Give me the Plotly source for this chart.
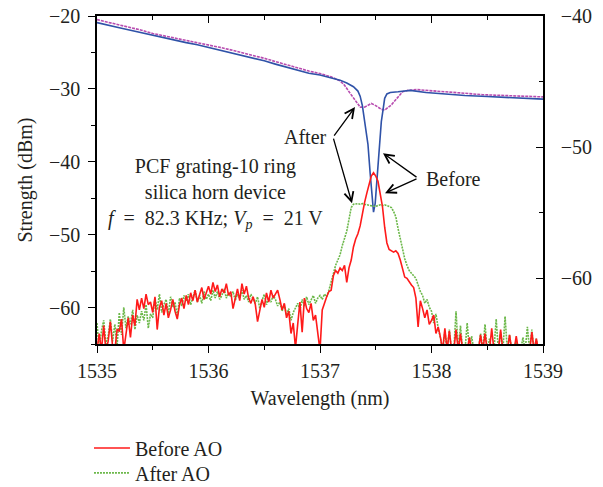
import numpy as np
import plotly.graph_objects as go

# ---------------- DATA ----------------
# Transmission spectra (left axis, dBm)
before_trans_wl = [1535.00, 1535.10, 1535.20, 1535.30, 1535.40, 1535.50, 1535.60, 1535.70, 1535.80, 1535.90,
                   1536.00, 1536.10, 1536.20, 1536.30, 1536.40, 1536.50, 1536.60, 1536.70, 1536.80, 1536.90,
                   1537.00, 1537.10, 1537.18, 1537.24, 1537.30, 1537.34, 1537.36, 1537.38, 1537.40, 1537.42,
                   1537.43, 1537.45, 1537.465, 1537.48, 1537.495, 1537.51, 1537.53, 1537.55, 1537.565, 1537.58,
                   1537.60, 1537.63, 1537.70, 1537.81, 1537.95, 1538.10, 1538.30, 1538.50, 1538.70, 1538.90, 1539.00]
before_trans_dbm = [-20.9, -21.2, -21.6, -21.95, -22.3, -22.7, -23.0, -23.35, -23.65, -23.95,
                    -24.3, -24.65, -25.0, -25.35, -25.75, -26.15, -26.6, -27.05, -27.5, -27.85,
                    -28.1, -28.45, -28.8, -29.2, -29.7, -30.3, -31.0, -32.3, -34.5, -36.6,
                    -37.6, -41.6, -44.9, -46.9, -45.7, -42.5, -37.6, -34.5, -32.9, -31.3,
                    -30.7, -30.5, -30.4, -30.2, -30.5, -30.7, -30.9, -31.05, -31.2, -31.35, -31.4]

after_trans_wl = [1535.00, 1535.10, 1535.20, 1535.30, 1535.40, 1535.50, 1535.60, 1535.70, 1535.80, 1535.90,
                  1536.00, 1536.10, 1536.20, 1536.30, 1536.40, 1536.50, 1536.60, 1536.70, 1536.80, 1536.90,
                  1537.00, 1537.10, 1537.18, 1537.22, 1537.27, 1537.31, 1537.36, 1537.40, 1537.43, 1537.46,
                  1537.49, 1537.52, 1537.55, 1537.58, 1537.61, 1537.64, 1537.69, 1537.74, 1537.79, 1537.87,
                  1537.95, 1538.05, 1538.17, 1538.30, 1538.46, 1538.60, 1538.80, 1539.00]
after_trans_dbm = [-20.5, -20.85, -21.2, -21.6, -21.95, -22.4, -22.7, -23.05, -23.35, -23.65,
                   -24.0, -24.3, -24.65, -25.0, -25.4, -25.8, -26.25, -26.7, -27.15, -27.55,
                   -27.9, -28.35, -28.9, -29.5, -30.6, -31.5, -32.5, -32.5, -32.2, -32.0,
                   -32.2, -32.5, -32.8, -32.9, -32.6, -32.2, -31.3, -30.4, -30.2, -30.1,
                   -30.2, -30.3, -30.4, -30.6, -30.8, -30.9, -31.0, -31.1]

# AO output spectra (right axis), sampled every 0.02 nm from 1535 to 1539
spec_start = 1535.0
spec_step = 0.02
before_ao = [
    -65.5, -64.2, -65.5, -63.6, -65.5, -64.8, -63.3, -65.2, -65.5, -63.9,
    -64.0, -63.1, -65.5, -64.2, -63.0, -64.5, -62.8, -63.6, -61.6, -62.4,
    -61.5, -62.3, -61.2, -62.0, -61.8, -62.6, -61.4, -63.9, -62.2, -61.7,
    -62.8, -61.9, -63.0, -62.4, -61.6, -62.5, -63.1, -62.0, -61.5, -62.3,
    -61.3, -62.0, -61.1, -61.7, -60.9, -61.8, -61.2, -60.7, -61.6, -61.0,
    -60.6, -61.2, -60.3, -61.0, -60.5, -61.4, -60.8, -61.1, -60.4, -61.3,
    -61.0, -62.3, -61.5, -60.8, -61.7, -60.4, -61.2, -60.6, -61.5, -61.9,
    -61.4, -62.0, -63.3, -62.5, -61.6, -62.2, -61.1, -61.8, -60.9, -61.5,
    -61.2, -60.9, -61.6, -62.4, -61.9, -63.0, -62.5, -64.2, -63.4, -65.3,
    -63.5, -61.8, -64.1, -61.5, -62.3, -62.6, -61.9, -63.2, -62.8, -64.0,
    -65.5, -62.4, -61.8, -61.4, -61.0, -60.9, -59.8, -59.4, -59.6, -59.2,
    -59.4, -59.0, -60.3, -59.2, -58.6, -57.6, -57.0, -56.6, -56.0, -55.0,
    -54.2, -53.5, -52.8, -52.2, -51.95, -52.2, -52.6, -53.5, -54.5, -56.1,
    -57.3, -57.8, -57.9, -58.0, -57.9, -58.1, -58.6, -59.2, -59.9, -60.0,
    -60.3, -60.5, -60.7, -61.5, -63.7, -61.7, -62.3, -63.0, -62.4, -63.5,
    -63.2, -62.8, -64.2, -63.7, -64.5, -65.5, -63.8, -65.5, -64.0, -65.5,
    -65.5, -63.9, -65.5, -64.2, -65.5, -65.5, -65.5, -64.5, -65.5, -65.5,
    -65.5, -65.5, -64.3, -65.5, -64.2, -65.5, -65.5, -63.8, -65.5, -65.5,
    -65.5, -63.9, -65.5, -65.5, -65.5, -64.3, -65.5, -65.5, -64.4, -65.5,
    -65.5, -65.5, -65.5, -65.5, -65.5, -64.1, -65.5, -64.6, -65.5, -65.5,
    -65.5]
after_ao = [
    -63.4, -65.5, -64.0, -63.2, -65.0, -64.4, -63.1, -64.8, -63.5, -65.2,
    -62.6, -64.3, -62.2, -63.8, -62.9, -63.5, -62.4, -63.9, -62.8, -63.4,
    -62.5, -63.2, -62.0, -63.8, -62.7, -63.0, -61.5, -62.4, -61.2, -62.6,
    -62.0, -61.6, -62.7, -61.4, -62.2, -61.8, -62.9, -61.5, -62.1, -61.3,
    -61.7, -61.2, -62.0, -61.4, -60.9, -61.8, -61.3, -61.9, -61.0, -61.6,
    -61.2, -61.7, -60.9, -61.5, -61.0, -61.6, -61.3, -60.8, -61.5, -61.1,
    -61.4, -61.0, -61.7, -61.2, -61.5, -60.9, -61.6, -61.3, -61.8, -61.2,
    -61.6, -61.9, -61.4, -62.3, -61.7, -61.2, -62.0, -61.5, -61.8, -61.3,
    -61.6, -62.1, -61.8, -62.5, -62.0, -62.8, -62.3, -63.2, -62.6, -62.2,
    -61.9, -62.4, -61.6, -62.1, -61.4, -62.0, -61.7, -61.3, -61.9, -61.5,
    -61.3, -61.6, -61.2, -61.4, -60.9, -60.2, -59.5, -59.0, -58.6, -58.2,
    -57.5, -56.9, -56.4, -55.5, -54.6, -54.35, -54.3, -54.3, -54.35, -54.3,
    -54.35, -54.4, -54.4, -54.45, -54.5, -54.5, -54.45, -54.4, -54.45, -54.4,
    -54.45, -54.5, -54.6, -54.9, -55.3, -56.2, -57.0, -57.8, -58.5, -59.0,
    -59.4, -59.6, -59.8, -60.0, -60.5, -61.0, -61.3, -61.9, -61.6, -62.2,
    -62.5, -63.4, -62.7, -63.8, -64.5, -65.5, -64.0, -65.5, -63.9, -65.5,
    -65.5, -62.5, -65.5, -63.6, -65.5, -65.5, -63.4, -65.5, -64.4, -65.5,
    -65.5, -65.5, -64.2, -65.5, -63.5, -65.5, -64.6, -65.5, -65.5, -63.1,
    -65.5, -64.1, -65.5, -62.9, -65.5, -64.3, -65.5, -65.5, -64.7, -65.5,
    -65.5, -64.5, -65.5, -63.7, -65.5, -63.9, -65.5, -64.6, -65.5, -65.5,
    -65.5]
spec_wl = np.round(spec_start + spec_step * np.arange(len(before_ao)), 3)

x_ticks = [1535, 1536, 1537, 1538, 1539]
left_ticks = [-20, -30, -40, -50, -60]
right_ticks = [-40, -50, -60]

# ---------------- FIGURE ----------------
FONT = "Liberation Serif"
TXT = "#231f20"
FS = 20
fig = go.Figure()

fig.add_trace(go.Scatter(x=spec_wl, y=after_ao, xaxis="x", yaxis="y2", mode="lines",
                         name="After AO", legend="legend2",
                         line=dict(color="#6cb84a", width=1.6, dash="2px,1px")))
fig.add_trace(go.Scatter(x=spec_wl, y=before_ao, xaxis="x", yaxis="y2", mode="lines",
                         name="Before AO", legend="legend",
                         line=dict(color="#ff1a1a", width=1.6)))
fig.add_trace(go.Scatter(x=after_trans_wl, y=after_trans_dbm, xaxis="x", yaxis="y", mode="lines",
                         showlegend=False, line=dict(color="#b84cb0", width=1.6, dash="3px,1px")))
fig.add_trace(go.Scatter(x=before_trans_wl, y=before_trans_dbm, xaxis="x", yaxis="y", mode="lines",
                         showlegend=False, line=dict(color="#2f52a8", width=1.6)))
fig.add_trace(go.Scatter(x=[], y=[], xaxis="x2", yaxis="y", showlegend=False, hoverinfo="skip"))

axis_common = dict(showline=True, linecolor="black", linewidth=1.5, showgrid=False, zeroline=False,
                   tickcolor="black", tickwidth=1.2, ticklen=7,
                   tickfont=dict(family=FONT, size=FS, color=TXT))

leg_common = dict(xanchor="left", yanchor="middle", font=dict(family=FONT, size=FS, color=TXT),
                  bgcolor="rgba(0,0,0,0)", itemwidth=36)

fig.update_layout(
    width=603, height=487,
    margin=dict(l=97, r=60, t=16, b=143, autoexpand=False),
    paper_bgcolor="white", plot_bgcolor="white",
    font=dict(family=FONT, size=FS, color=TXT),
    xaxis=dict(range=[1535, 1539], tickvals=x_ticks, ticks="outside", ticklabelstandoff=1,
               minor=dict(dtick=0.5, ticks="outside", ticklen=4, tickcolor="black"),
               title=dict(text="Wavelength (nm)", font=dict(family=FONT, size=FS, color=TXT), standoff=10),
               **axis_common),
    xaxis2=dict(range=[1535, 1539], overlaying="x", side="top", anchor="y", tickvals=x_ticks,
                ticks="inside", showticklabels=False,
                minor=dict(dtick=0.5, ticks="inside", ticklen=4, tickcolor="black"),
                **{k: v for k, v in axis_common.items() if k != "tickfont"}),
    yaxis=dict(range=[-65, -20], tickvals=left_ticks, ticks="outside", ticklabelstandoff=4,
               minor=dict(tickvals=[-25, -35, -45, -55, -65], ticks="outside", ticklen=4, tickcolor="black"),
               title=dict(text="Strength (dBm)", font=dict(family=FONT, size=FS, color=TXT), standoff=11),
               **axis_common),
    yaxis2=dict(range=[-65, -40], tickvals=right_ticks, overlaying="y", side="right", anchor="x",
                ticks="inside", ticklabelstandoff=12,
                minor=dict(tickvals=[-45, -55, -65], ticks="inside", ticklen=4, tickcolor="black"),
                **axis_common),
    legend=dict(x=-0.018, y=-0.317, **leg_common),
    legend2=dict(x=-0.018, y=-0.393, **leg_common),
    showlegend=True,
)

# Text block
fig.add_annotation(x=1536.06, y=-44.3, xref="x", yref="y", showarrow=False,
                   text="PCF grating-10 ring<br>silica horn device<br><i>f</i>  =  82.3 KHz; <i>V<sub>p</sub></i>  =  21 V",
                   font=dict(family=FONT, size=FS, color=TXT), align="center", yanchor="middle")
fig.add_annotation(x=1536.87, y=-36.6, xref="x", yref="y", showarrow=False, text="After",
                   font=dict(family=FONT, size=FS, color=TXT))
fig.add_annotation(x=1538.2, y=-42.3, xref="x", yref="y", showarrow=False, text="Before",
                   font=dict(family=FONT, size=FS, color=TXT))

# Arrows (tail at vertex, head at tip)
arrows = [
    ((1537.117, -36.62), (1537.314, -32.5)),
    ((1537.117, -36.62), (1537.287, -45.69)),
    ((1537.879, -42.25), (1537.565, -38.82)),
    ((1537.879, -42.25), (1537.583, -44.31)),
]
for (tx, ty), (hx, hy) in arrows:
    fig.add_annotation(x=hx, y=hy, ax=tx, ay=ty, xref="x", yref="y", axref="x", ayref="y",
                       text="", showarrow=True, arrowhead=5, arrowsize=1.4, arrowwidth=1.3,
                       arrowcolor="black", standoff=0, startstandoff=0)

fig.write_html("out.html")
